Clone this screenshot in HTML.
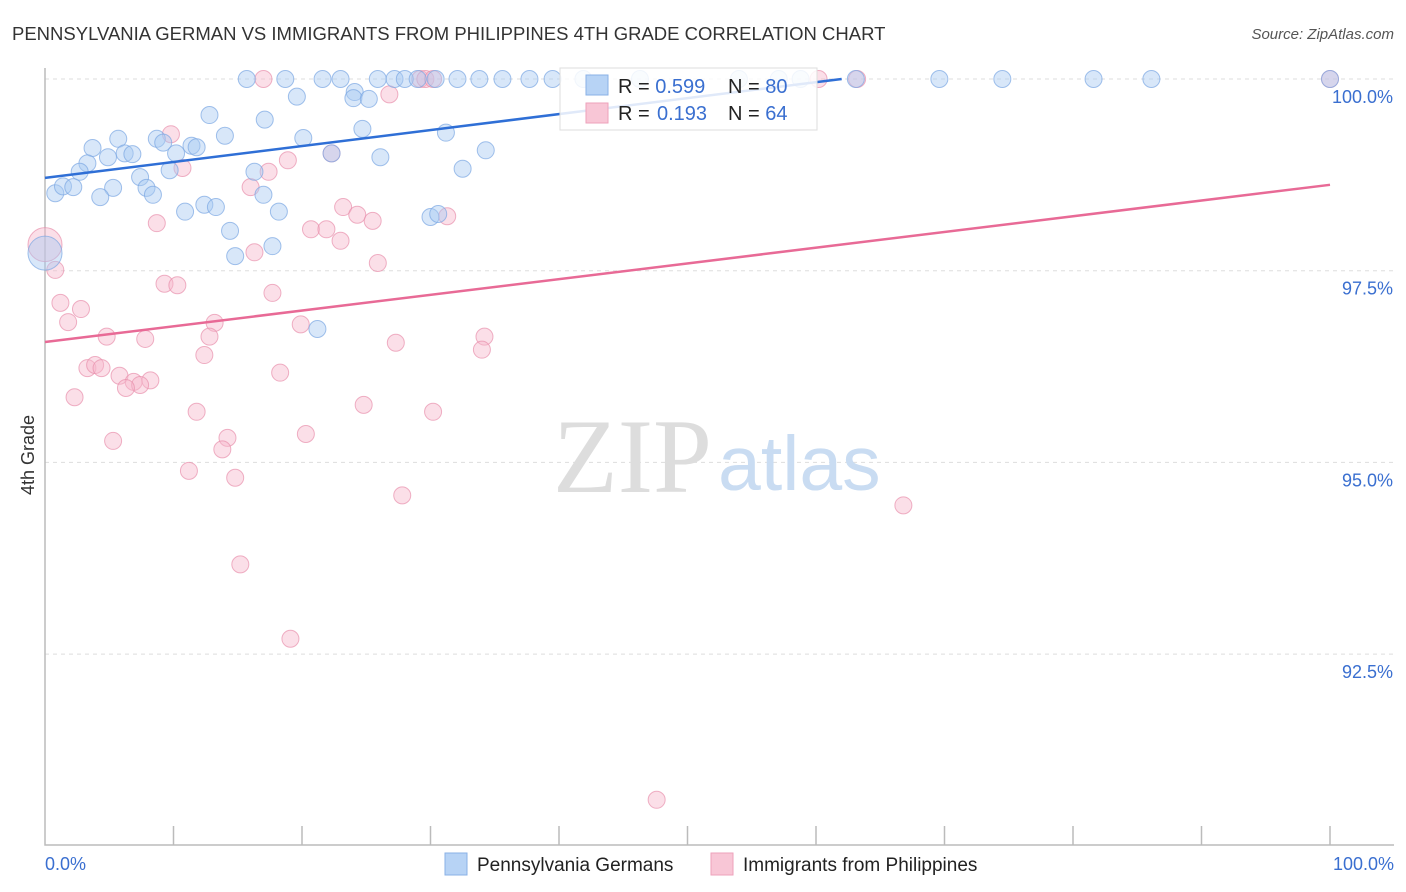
<!DOCTYPE html>
<html><head><meta charset="utf-8">
<style>
body{margin:0;background:#fff;font-family:"Liberation Sans",sans-serif;}
svg{display:block}
</style></head>
<body>
<svg id="chart" width="1406" height="892" xmlns="http://www.w3.org/2000/svg">
<text x="12" y="40" font-size="18.5" fill="#333">PENNSYLVANIA GERMAN VS IMMIGRANTS FROM PHILIPPINES 4TH GRADE CORRELATION CHART</text>
<text x="1394" y="39" font-size="15" fill="#555" font-style="italic" text-anchor="end">Source: ZipAtlas.com</text>
<text transform="translate(34,455) rotate(-90)" font-size="18" fill="#333" text-anchor="middle">4th Grade</text>
<g id="grid"></g>
<text x="553" y="492" font-size="106" fill="#ddd" font-family="Liberation Serif,serif">ZIP</text>
<text x="718" y="490" font-size="77" fill="#c9dcf2">atlas</text>
<g id="marks"></g>
<g>
<rect x="560" y="68" width="257" height="62" fill="#fff" fill-opacity="0.85" stroke="#ddd"/>
<rect x="586" y="75" width="22" height="20" fill="#b7d3f5" stroke="#8ab0e6"/>
<rect x="586" y="103" width="22" height="20" fill="#f8c6d6" stroke="#eea2bb"/>
<text x="618" y="93" font-size="20" fill="#222">R = <tspan fill="#3a6fd0">0.599</tspan><tspan x="728">N = </tspan><tspan fill="#3a6fd0">80</tspan></text>
<text x="618" y="120" font-size="20" fill="#222">R = <tspan x="657" fill="#3a6fd0">0.193</tspan><tspan x="728">N = </tspan><tspan fill="#3a6fd0">64</tspan></text>
</g>
<text x="45" y="870" font-size="18" fill="#3a6fd0">0.0%</text>
<text x="1394" y="870" font-size="18" fill="#3a6fd0" text-anchor="end">100.0%</text>
<rect x="445" y="853" width="22" height="22" fill="#b7d3f5" stroke="#8ab0e6"/>
<text x="477" y="871" font-size="19" fill="#222">Pennsylvania Germans</text>
<rect x="711" y="853" width="22" height="22" fill="#f8c6d6" stroke="#eea2bb"/>
<text x="743" y="871" font-size="19" fill="#222">Immigrants from Philippines</text>
</svg>
<script>
const yTicks=[100,97.5,95,92.5];
const yTickLabels=["100.0%","97.5%","95.0%","92.5%"];
const blueX=[15.7,18.7,21.6,23.0,25.9,27.2,28.0,29.0,30.4,32.1,33.8,35.6,37.7,39.5,41.9,46.3,54.0,57.1,58.8,63.1,69.6,74.5,81.6,86.1,100,
19.6,24.1,24.0,25.2,12.8,17.1,24.7,31.2,5.7,8.7,14.0,20.1,9.2,3.7,11.4,11.8,34.3,6.2,6.8,4.9,10.2,22.3,26.1,3.3,2.7,9.7,16.3,32.5,7.4,0.8,1.4,2.2,5.3,7.9,4.3,8.4,17.0,10.9,12.4,13.3,18.2,30.0,30.6,14.4,17.7,14.8,0,21.2];
const blueY=[100,100,100,100,100,100,100,100,100,100,100,100,100,100,100,100,100,100,100,100,100,100,100,100,100,
99.77,99.83,99.75,99.74,99.53,99.47,99.35,99.30,99.22,99.22,99.26,99.23,99.17,99.10,99.13,99.11,99.07,99.03,99.02,98.98,99.03,99.03,98.98,98.90,98.79,98.81,98.79,98.83,98.72,98.51,98.60,98.59,98.58,98.58,98.46,98.49,98.49,98.27,98.36,98.33,98.27,98.20,98.24,98.02,97.82,97.69,97.73,96.74];
const pinkX=[17.0,29.2,29.6,30.2,60.2,63.2,100,26.8,9.8,22.3,18.9,10.7,17.4,16.0,23.2,24.3,25.5,31.3,8.7,20.7,21.9,23.0,16.3,0,0.8,25.9,9.3,10.3,17.7,1.2,2.8,1.8,13.2,19.9,4.8,7.8,12.8,34.2,27.3,34.0,12.4,3.3,3.9,4.4,18.3,5.8,6.9,8.2,7.4,6.3,2.3,24.8,11.8,30.2,5.3,20.3,14.2,13.8,11.2,14.8,27.8,66.8,15.2,19.1,47.6];
const pinkY=[100,100,100,100,100,100,100,99.80,99.28,99.03,98.94,98.84,98.79,98.59,98.33,98.23,98.15,98.21,98.12,98.04,98.04,97.89,97.74,97.84,97.51,97.60,97.33,97.31,97.21,97.08,97.00,96.83,96.82,96.80,96.64,96.61,96.64,96.64,96.56,96.47,96.40,96.23,96.27,96.23,96.17,96.13,96.05,96.07,96.01,95.97,95.85,95.75,95.66,95.66,95.28,95.37,95.32,95.17,94.89,94.80,94.57,94.44,93.67,92.70,90.60];
const blueTrend=[0,98.71,62,100];
const pinkTrend=[0,96.57,100,98.62];
const NS="http://www.w3.org/2000/svg";
const xs=v=>45+v*12.85;
const ys=v=>79+(100-v)*76.68;
function mk(tag,attrs,parent){const e=document.createElementNS(NS,tag);for(const k in attrs)e.setAttribute(k,attrs[k]);parent.appendChild(e);return e;}
const grid=document.getElementById('grid'),marks=document.getElementById('marks');
yTicks.forEach((t,i)=>{
  const l=mk('line',{x1:45,x2:1394,y1:ys(t),y2:ys(t),stroke:'#ddd','stroke-dasharray':'4,4'},grid);
  
  
  const tx=mk('text',{x:1393,y:ys(t)+24,'font-size':18,fill:'#3a6fd0','text-anchor':'end'},grid);
  tx.textContent=yTickLabels[i];
  
  
});
const ax=mk('path',{d:'M45,68 V845 H1394',fill:'none',stroke:'#bbb','stroke-width':1.5},grid);


for(let i=1;i<=10;i++){const t=mk('line',{x1:xs(i*10),x2:xs(i*10),y1:826,y2:845,stroke:'#bbb','stroke-width':1.5},grid);

}
function pts(X,Y,fill,stroke,name){X.forEach((x,i)=>{const big=(x===0);const c=mk('circle',{cx:xs(x),cy:ys(Y[i]),r:big?17:8.5,fill:fill,'fill-opacity':0.45,stroke:stroke,'stroke-opacity':0.7,'stroke-width':1},marks);

});}
pts(pinkX,pinkY,'#f7b9cd','#e890ad','pink-point');
pts(blueX,blueY,'#a9c9f2','#7aa6e3','blue-point');
const bl=mk('line',{x1:xs(blueTrend[0]),y1:ys(blueTrend[1]),x2:xs(blueTrend[2]),y2:ys(blueTrend[3]),stroke:'#2f6fd6','stroke-width':2.5},marks);


const pl=mk('line',{x1:xs(pinkTrend[0]),y1:ys(pinkTrend[1]),x2:xs(pinkTrend[2]),y2:ys(pinkTrend[3]),stroke:'#e86a96','stroke-width':2.5},marks);


</script>
</body></html>
